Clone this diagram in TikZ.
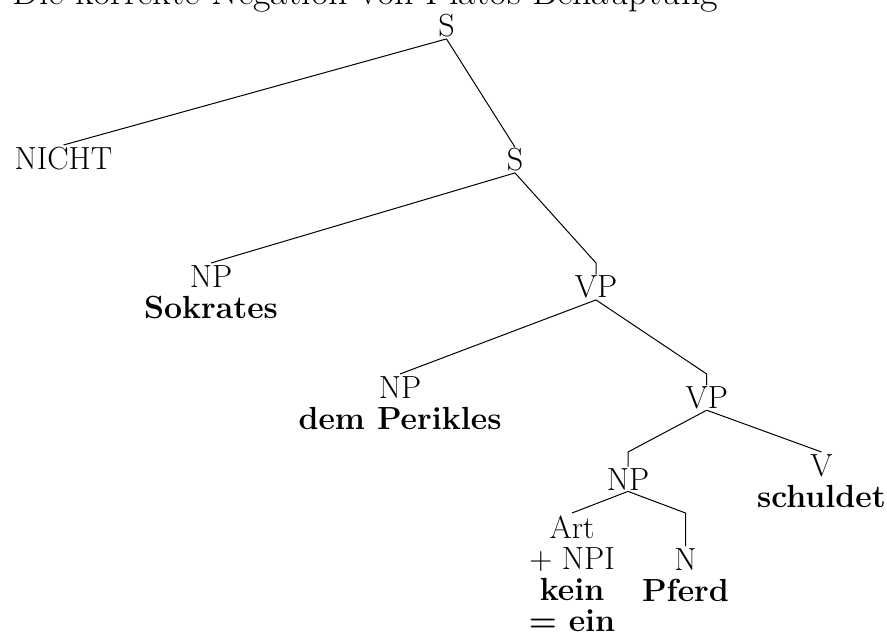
\documentclass[tikz,border=0pt]{standalone}
\tikzset{
  branch/.style={black,line width=0.5pt},
  cat/.style={font=\fontsize{16}{15.5}\selectfont,inner sep=0.5pt,anchor=base},
  leaf/.style={cat,anchor=north,align=center,inner sep=1pt},
  heading/.style={font=\fontsize{19}{22}\selectfont,anchor=base west,inner sep=0pt},
}

\begin{document}
\begin{tikzpicture}[x=0.5pt,y=-0.5pt]
  \useasboundingbox (0,0) rectangle (887,635);
  \clip (0,0) rectangle (887,635);
  \node[heading] (title) at (12,5) {Die korrekte Negation von Platos Behauptung};

  % categories and words
  \node[cat] (s) at (446.5,37) {S};
  \node[leaf] (nicht) at (63.5,145) {NICHT};
  \node[cat] (s2) at (515,171) {S};
  \node[leaf] (np1) at (211,263) {NP\\\textbf{Sokrates}};
  \node[cat] (vp1) at (596,298) {VP};
  \node[leaf] (np2) at (400,374) {NP\\\textbf{dem Perikles}};
  \node[cat] (vp2) at (706.7,408.3) {VP};
  \node[cat] (np3) at (628,490) {NP};
  \node[leaf] (v) at (821.5,452) {V\\\textbf{schuldet}};
  \node[leaf] (art) at (572,513) {Art\\+ NPI\\\textbf{kein}\\\textbf{= ein}};
  \node[leaf] (n) at (685.5,546) {N\\\textbf{Pferd}};

  % branches
  \draw[branch] (s.south) -- (nicht.north);
  \draw[branch] (s.south) -- (s2.north);
  \draw[branch] (s2.south) -- (np1.north);
  \draw[branch] (s2.south) -- (vp1.north |- np1.north) -- (vp1.north);
  \draw[branch] (vp1.south) -- (np2.north);
  \draw[branch] (vp1.south) -- (vp2.north |- np2.north) -- (vp2.north);
  \draw[branch] (vp2.south) -- (np3.north |- v.north) -- (np3.north);
  \draw[branch] (vp2.south) -- (v.north);
  \draw[branch] (np3.south) -- (art.north);
  \draw[branch] (np3.south) -- (n.north |- art.north) -- (n.north);
\end{tikzpicture}
\end{document}
